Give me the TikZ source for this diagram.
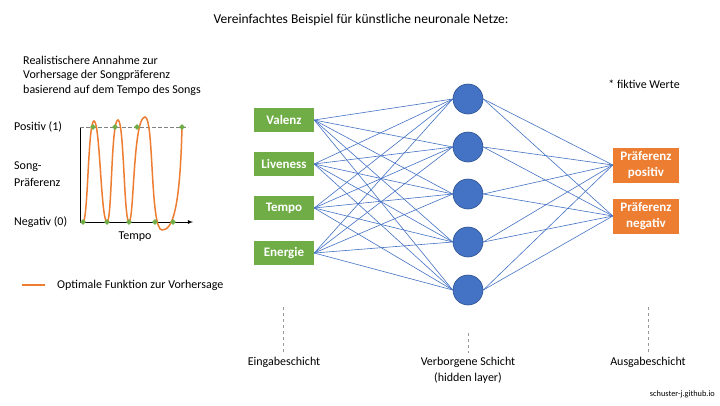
\documentclass[tikz,border=0pt]{standalone}
\usepackage{fontspec}
\setmainfont{Carlito}
\usetikzlibrary{shapes.geometric,backgrounds}
\begin{document}
\begin{tikzpicture}[x=1pt,y=-1pt,
  txt/.style={inner sep=0pt,font=\fontsize{12}{14}\selectfont},
  inbox/.style={fill=ingreen,minimum width=60pt,minimum height=24pt,inner sep=0pt,text=white,font=\bfseries\fontsize{13}{15}\selectfont},
  outbox/.style={fill=outorange,minimum width=66pt,minimum height=35pt,inner sep=0pt,text=white,align=center,font=\bfseries\fontsize{13}{16}\selectfont},
  hid/.style={circle,fill=hblue,draw=hborder,line width=0.6pt,minimum size=30pt,inner sep=0pt},
  conn/.style={draw=hblue,line width=0.6pt},
  guide/.style={draw=gray!80,line width=0.5pt,dash pattern=on 3pt off 3pt},
  gdot/.style={fill=dotgreen,draw=none,diamond,minimum size=6pt,inner sep=0pt},
]
\definecolor{ingreen}{HTML}{70AD47}
\definecolor{dotgreen}{HTML}{70AD47}
\definecolor{outorange}{HTML}{ED7D31}
\definecolor{hblue}{HTML}{4472C4}
\definecolor{hborder}{HTML}{2F528F}
\useasboundingbox (0,0) rectangle (720,405);

\node[inner sep=0pt,font=\fontsize{13.5}{15}\selectfont] (title) at (361,20) {Vereinfachtes Beispiel für künstliche neuronale Netze:};

\node[txt,anchor=west] (l1) at (23,60) {Realistischere Annahme zur};
\node[txt,anchor=west] (l2) at (23,75) {Vorhersage der Songpräferenz};
\node[txt,anchor=west] (l3) at (23,90) {basierend auf dem Tempo des Songs};

% chart
\coordinate (origin) at (80,222);
\coordinate (yend) at (80,127);
\coordinate (xend) at (193,222);
\draw[line width=0.8pt] (yend) -- (origin);
\draw[line width=0.8pt,-latex] (origin) -- (xend);
\coordinate (dl) at (80,127);
\coordinate (dr) at (188,127);
\draw[gray,line width=1pt,dash pattern=on 4pt off 2pt] (dl) -- (dr);
\node[txt,anchor=west] (pos) at (14,127) {Positiv (1)};
\node[txt,anchor=west] (sp1) at (14,167) {Song-};
\node[txt,anchor=west] (sp2) at (14,182) {Präferenz};
\node[txt,anchor=west] (neg) at (14,222) {Negativ (0)};
\node[txt] (tempo) at (135,237) {Tempo};

\draw[outorange,line width=1.5pt] (83,222) .. controls (88,222) and (88,121) .. (94,121)
  .. controls (100,121) and (101,222) .. (107,222)
  .. controls (112,222) and (111,120) .. (118,120)
  .. controls (124,120) and (124,222) .. (129,222)
  .. controls (134,222) and (133,117) .. (145,117)
  .. controls (154,117) and (150,230) .. (162,230)
  .. controls (172,230) and (180,212) .. (182,127);
\foreach \i/\x in {a/93,b/115,c/137,d/182} \node[gdot] (t\i) at (\x,127) {};
\foreach \i/\x in {a/83,b/107,c/129,d/155,e/173} \node[gdot] (b\i) at (\x,222) {};

\coordinate (lg1) at (22,285);
\coordinate (lg2) at (45,285);
\draw[outorange,line width=1.5pt] (lg1) -- (lg2);
\node[txt,anchor=west] (lgt) at (57,285) {Optimale Funktion zur Vorhersage};

% network
\node[inbox] (i1) at (284,120) {Valenz};
\node[inbox] (i2) at (284,164) {Liveness};
\node[inbox] (i3) at (284,208) {Tempo};
\node[inbox] (i4) at (284,253) {Energie};
\foreach \n/\y in {1/99,2/147,3/194,4/242,5/290} \node[hid] (h\n) at (468,\y) {};
\node[outbox] (o1) at (646,165) {Präferenz\\positiv};
\node[outbox] (o2) at (646,216) {Präferenz\\negativ};
\begin{scope}[on background layer]
\fill[white] (0,0) rectangle (720,405);
\foreach \i in {1,...,4} \foreach \h in {1,...,5} \draw[conn] (i\i.east) -- (h\h.west);
\foreach \h in {1,...,5} \foreach \o in {1,2} \draw[conn] (h\h.east) -- (o\o.west);
\end{scope}

\node[txt] (fw) at (644,84) {* fiktive Werte};

% layer labels
\coordinate (g1a) at (283,307); \coordinate (g1b) at (283,353);
\coordinate (g2a) at (468,333); \coordinate (g2b) at (468,353);
\coordinate (g3a) at (648,307); \coordinate (g3b) at (648,353);
\draw[guide] (g1a) -- (g1b);
\draw[guide] (g2a) -- (g2b);
\draw[guide] (g3a) -- (g3b);
\node[txt] (e1) at (284,362) {Eingabeschicht};
\node[txt] (e2) at (468,362) {Verborgene Schicht};
\node[txt] (e2b) at (468,378) {(hidden layer)};
\node[txt] (e3) at (648,362) {Ausgabeschicht};
\node[inner sep=0pt,anchor=east,font=\fontsize{8.3}{10}\selectfont] (src) at (715,394) {schuster-j.github.io};
\end{tikzpicture}
\end{document}
